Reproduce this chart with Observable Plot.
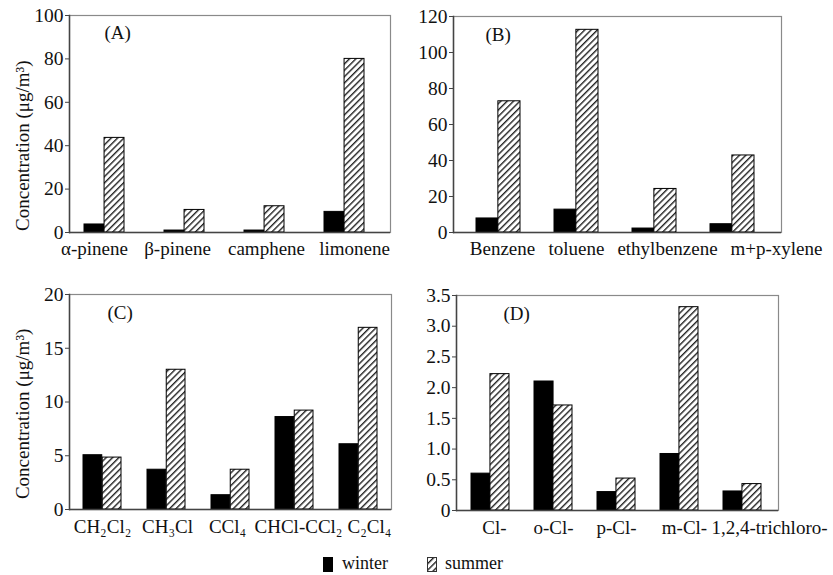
<!DOCTYPE html>
<html>
<head>
<meta charset="utf-8">
<script src="https://cdn.jsdelivr.net/npm/d3@7"></script>
<script src="https://cdn.jsdelivr.net/npm/@observablehq/plot@0.6"></script>
<style>
  html, body { margin: 0; padding: 0; background: #fff; }
  #root { position: relative; width: 833px; height: 575px; font-family: "Liberation Serif", "Times New Roman", serif; }
  .panel { position: absolute; }
  .legend { position: absolute; top: 553px; left: 0; width: 833px; height: 22px; font-size: 18px; color: #111; }
  .legend svg { position: absolute; top: 4px; }
  .legend span.lb { position: absolute; top: 0px; }
</style>
</head>
<body>
<svg width="0" height="0" style="position:absolute">
  <defs>
    <pattern id="hatch" patternUnits="userSpaceOnUse" width="4.5" height="4.5" patternTransform="rotate(45)">
      <rect width="4.5" height="4.5" fill="#fff"></rect>
      <line x1="0" y1="0" x2="0" y2="4.5" stroke="#222" stroke-width="2.8"></line>
    </pattern>
  </defs>
</svg>
<div id="root">
  <div id="pA" class="panel" style="left:0px;top:0px"></div>
  <div id="pB" class="panel" style="left:410px;top:0px"></div>
  <div id="pC" class="panel" style="left:0px;top:270px"></div>
  <div id="pD" class="panel" style="left:410px;top:270px"></div>
  <div class="legend">
    <svg width="10" height="15" style="left:323px"><rect x="0.5" y="0.5" width="9" height="14" fill="#000" stroke="#000"></rect></svg>
    <span class="lb" style="left:342px">winter</span>
    <svg width="10" height="15" style="left:427px"><rect x="0.5" y="0.5" width="9" height="14" fill="url(#hatch)" stroke="#333"></rect></svg>
    <span class="lb" style="left:445px">summer</span>
  </div>
</div>
<script>
// Panel (A)
const catsA = ["α-pinene", "β-pinene", "camphene", "limonene"];
const winterA = [3.7, 0.9, 0.9, 9.5];
const summerA = [43.6, 10.4, 12.1, 80.0];
const ticksA = [0, 20, 40, 60, 80, 100];

// Panel (B)
const catsB = ["Benzene", "toluene", "ethylbenzene", "m+p-xylene"];
const winterB = [7.8, 12.7, 2.2, 4.6];
const summerB = [72.9, 112.6, 24.2, 42.8];
const ticksB = [0, 20, 40, 60, 80, 100, 120];

// Panel (C)
const catsC = ["CH₂Cl₂", "CH₃Cl", "CCl₄", "CHCl-CCl₂", "C₂Cl₄"];
const winterC = [5.05, 3.7, 1.33, 8.6, 6.07];
const summerC = [4.83, 13.0, 3.7, 9.2, 16.9];
const ticksC = [0, 5, 10, 15, 20];

// Panel (D)
const catsD = ["Cl-", "o-Cl-", "p-Cl-", "m-Cl-", "1,2,4-trichloro-"];
const winterD = [0.60, 2.10, 0.30, 0.92, 0.31];
const summerD = [2.22, 1.71, 0.52, 3.31, 0.43];
const ticksD = [0, 0.5, 1.0, 1.5, 2.0, 2.5, 3.0, 3.5];

const yLabel = "Concentration (μg/m³)";

function panel({el, cats, winter, summer, ticks, yMax, tag, tagDx, tagDy,
                width, height, mL, mT, mR, mB, pI, pO, align, labelAt, tickFmt, xPad, shifts}) {
  const data = cats.map((c, i) => ({cat: c, winter: winter[i], summer: summer[i]}));
  const W = width - mL - mR;
  const n = cats.length;
  const step = W / (n - pI + 2 * pO);
  const bw = step * (1 - pI);
  const marks = [
    Plot.frame({stroke: "#8a8a8a", strokeWidth: 1.2}),
    Plot.barY(data, {x: "cat", y: "winter", fill: "#000", stroke: "#000", strokeWidth: 1, insetRight: bw / 2}),
    Plot.barY(data, {x: "cat", y: "summer", fill: "url(#hatch)", stroke: "#000", strokeWidth: 1, insetLeft: bw / 2}),
    Plot.ruleY([0], {stroke: "#444", strokeWidth: 1.5}),
    Plot.frame({anchor: "left", stroke: "#444", strokeWidth: 1.5}),
    Plot.axisY({ticks, tickSize: 4, tickPadding: 2, label: null, tickFormat: tickFmt, fontSize: 19.5, stroke: "#444"}),
    ...cats.map((c, i) => Plot.axisX({ticks: [c], tickSize: 0, tickPadding: xPad, label: null, fontSize: 19, dx: shifts[i]})),
    Plot.text([tag], {frameAnchor: "top-left", dx: tagDx, dy: tagDy, text: d => d, fontSize: 19, textAnchor: "start", lineAnchor: "top", fill: "#111"})
  ];
  if (labelAt != null) {
    marks.push(Plot.text([yLabel], {frameAnchor: "left", y: () => labelAt * yMax, rotate: -90, dx: -47, text: d => d,
      fontSize: 19, textAnchor: "middle", lineAnchor: "middle", fill: "#111"}));
  }
  const chart = Plot.plot({
    width, height,
    marginLeft: mL, marginTop: mT, marginRight: mR, marginBottom: mB,
    style: {fontFamily: "'Liberation Serif', 'Times New Roman', serif", color: "#111", background: "transparent", overflow: "visible"},
    x: {domain: cats, paddingInner: pI, paddingOuter: pO, align},
    y: {domain: [0, yMax]},
    marks
  });
  document.getElementById(el).appendChild(chart);
}

const numFmt = d => String(d);
const decFmt = d => d === 0 ? "0" : d.toFixed(1);

panel({el: "pA", cats: catsA, winter: winterA, summer: summerA, ticks: ticksA, yMax: 100, tag: "(A)", tagDx: 35, tagDy: 10,
  width: 410, height: 270, mL: 69, mT: 15, mR: 20, mB: 38, pI: 0.5, pO: 0.25, align: 0.36,
  labelAt: 0.40, tickFmt: numFmt, xPad: 9, shifts: [-10, -7, 2, 10]});
panel({el: "pB", cats: catsB, winter: winterB, summer: summerB, ticks: ticksB, yMax: 120, tag: "(B)", tagDx: 32, tagDy: 11,
  width: 423, height: 270, mL: 43, mT: 16, mR: 52, mB: 38, pI: 0.44, pO: 0.32, align: 0.45,
  labelAt: null, tickFmt: numFmt, xPad: 9, shifts: [4, 0, 13, 44]});
panel({el: "pC", cats: catsC, winter: winterC, summer: summerC, ticks: ticksC, yMax: 20, tag: "(C)", tagDx: 38, tagDy: 11,
  width: 410, height: 275, mL: 69, mT: 24, mR: 19, mB: 36, pI: 0.4, pO: 0.21, align: 0.5,
  labelAt: 0.445, tickFmt: numFmt, xPad: 10, shifts: [0, 1, -3, 4, 11]});
panel({el: "pD", cats: catsD, winter: winterD, summer: summerD, ticks: ticksD, yMax: 3.5, tag: "(D)", tagDx: 47, tagDy: 11,
  width: 423, height: 275, mL: 46, mT: 25, mR: 55, mB: 35, pI: 0.4, pO: 0.25, align: 0.48,
  labelAt: null, tickFmt: decFmt, xPad: 10, shifts: [4, 0, 0, 5, 27]});
</script>
</body>
</html>
